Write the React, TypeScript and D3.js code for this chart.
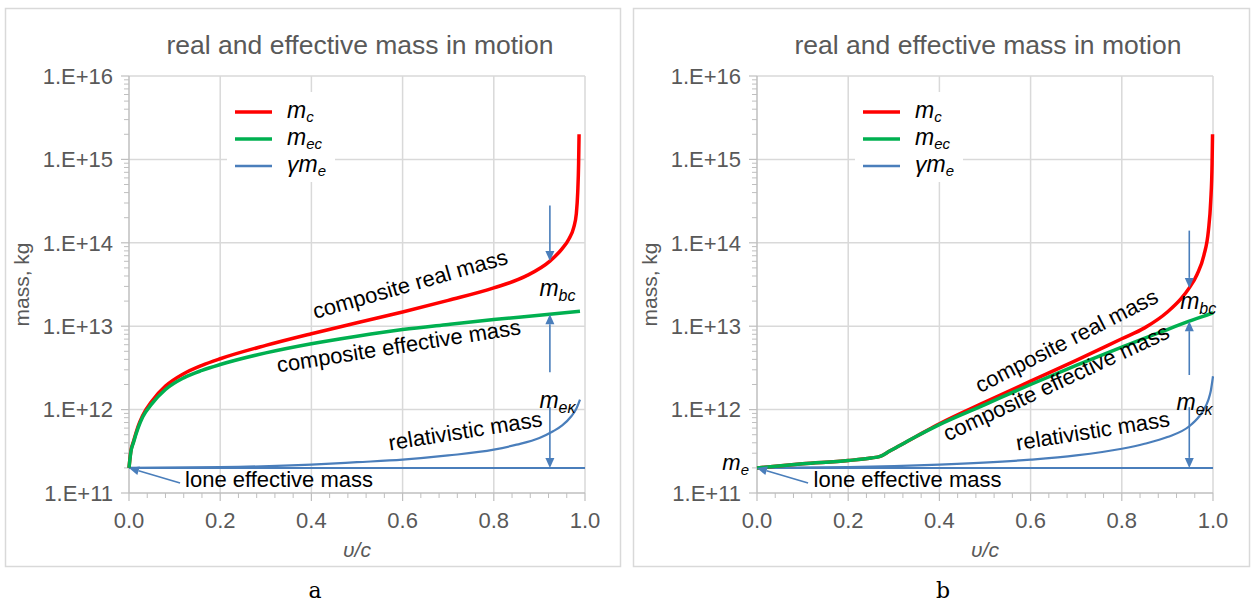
import React from 'react';
import * as d3 from 'd3';

// ---------- axis ticks ----------
const xTicks = [0, 0.2, 0.4, 0.6, 0.8, 1.0];
const xTickLabels = ['0.0', '0.2', '0.4', '0.6', '0.8', '1.0'];
const yTicks = [1e11, 1e12, 1e13, 1e14, 1e15, 1e16];
const yTickLabels = ['1.E+11', '1.E+12', '1.E+13', '1.E+14', '1.E+15', '1.E+16'];

const loneU = [0, 1.0];
const loneM = [2.0e11, 2.0e11];

// ---------- panel a ----------
const aRealU = [0, 0.004, 0.01, 0.02, 0.03, 0.05, 0.08, 0.12, 0.16, 0.2, 0.3, 0.4, 0.5, 0.6, 0.7, 0.8, 0.87, 0.923, 0.95, 0.965, 0.975, 0.981, 0.984, 0.986, 0.987];
const aRealM = [2.0e11, 3.16e11, 4.17e11, 6.31e11, 8.51e11, 1.26e12, 1.91e12, 2.69e12, 3.39e12, 4.07e12, 5.89e12, 8.13e12, 1.10e13, 1.48e13, 2.04e13, 2.88e13, 3.98e13, 6.03e13, 8.51e13, 1.12e14, 1.51e14, 2.24e14, 3.98e14, 8.91e14, 2.0e15];
const aEffU = [0, 0.004, 0.01, 0.02, 0.03, 0.05, 0.08, 0.12, 0.16, 0.2, 0.3, 0.4, 0.5, 0.6, 0.7, 0.8, 0.9, 0.989];
const aEffM = [2.0e11, 3.09e11, 4.07e11, 6.03e11, 8.13e11, 1.17e12, 1.74e12, 2.40e12, 2.95e12, 3.47e12, 4.79e12, 6.17e12, 7.59e12, 9.12e12, 1.05e13, 1.20e13, 1.35e13, 1.51e13];
const aGamU = [0, 0.2, 0.4, 0.5, 0.6, 0.7, 0.8, 0.85, 0.9, 0.93, 0.95, 0.97, 0.98, 0.989];
const aGamM = [2.0e11, 2.04e11, 2.19e11, 2.34e11, 2.51e11, 2.82e11, 3.31e11, 3.80e11, 4.57e11, 5.50e11, 6.46e11, 8.32e11, 1.0e12, 1.32e12];

// ---------- panel b ----------
const bRealU = [0, 0.1, 0.2, 0.25, 0.27, 0.29, 0.31, 0.35, 0.4, 0.5, 0.6, 0.7, 0.8, 0.85, 0.9, 0.93, 0.948, 0.965, 0.98, 0.99, 0.995, 0.998, 0.999];
const bRealM = [2.0e11, 2.24e11, 2.45e11, 2.63e11, 2.75e11, 3.16e11, 3.63e11, 4.79e11, 6.76e11, 1.23e12, 2.19e12, 3.89e12, 7.08e12, 9.55e12, 1.48e13, 2.14e13, 2.88e13, 4.17e13, 7.08e13, 1.41e14, 3.16e14, 8.91e14, 2.0e15];
const bEffU = [0, 0.1, 0.2, 0.25, 0.27, 0.29, 0.31, 0.35, 0.4, 0.5, 0.6, 0.7, 0.8, 0.9, 0.948, 0.98, 1.0];
const bEffM = [2.0e11, 2.24e11, 2.45e11, 2.63e11, 2.75e11, 3.16e11, 3.63e11, 4.79e11, 6.61e11, 1.15e12, 2.0e12, 3.39e12, 5.62e12, 9.12e12, 1.15e13, 1.32e13, 1.45e13];
const bGamU = [0, 0.2, 0.4, 0.6, 0.7, 0.8, 0.85, 0.9, 0.948, 0.97, 0.98, 0.99, 0.995, 1.0];
const bGamM = [2.0e11, 2.04e11, 2.19e11, 2.51e11, 2.82e11, 3.39e11, 3.89e11, 4.68e11, 6.31e11, 8.32e11, 1.0e12, 1.32e12, 1.66e12, 2.51e12];

const TITLE = 'real and effective mass in motion';
const Y_LABEL = 'mass, kg';

const RED = '#FF0000';
const GREEN = '#00B050';
const BLUE = '#4A7EBB';
const GRID = '#D9D9D9';
const AXIS = '#BFBFBF';
const TXT = '#595959';
const SANS = '"Liberation Sans", Arial, sans-serif';

const PLOT_W = 456;
const TOP = 76;
const BOTTOM = 493;

type Pt = [number, number];

function zip(u: number[], m: number[]): Pt[] {
  return u.map((v, i) => [v, m[i]] as Pt);
}

function Arrow({ x1, y1, x2, y2, head = 10, half = 4.5 }: any) {
  const dx = x2 - x1, dy = y2 - y1;
  const len = Math.hypot(dx, dy);
  const ux = dx / len, uy = dy / len;
  const bx = x2 - ux * head, by = y2 - uy * head;
  const px = -uy, py = ux;
  const pts = `${x2},${y2} ${bx + px * half},${by + py * half} ${bx - px * half},${by - py * half}`;
  return (
    <g>
      <line x1={x1} y1={y1} x2={bx} y2={by} stroke={BLUE} strokeWidth={1.6} />
      <polygon points={pts} fill={BLUE} />
    </g>
  );
}

function Panel(props: any) {
  const { x0, real, eff, gam, ann, letter, showMe } = props;
  const xs = d3.scaleLinear().domain([0, 1]).range([x0, x0 + PLOT_W]);
  const ys = d3.scaleLog().domain([1e11, 1e16]).range([BOTTOM, TOP]);
  const line = d3
    .line<Pt>()
    .x((d) => xs(d[0]))
    .y((d) => ys(d[1]))
    .curve(d3.curveMonotoneX);

  const minorY: number[] = [];
  for (let e = 11; e < 16; e++) for (let k = 2; k <= 9; k++) minorY.push(k * Math.pow(10, e));
  const minorX: number[] = [];
  for (let i = 1; i < 25; i++) if (i % 5 !== 0) minorX.push(i * 0.04);

  const xc = xs(0.5);
  const ax = xs(ann.u);
  const legX = x0 + 106;

  return (
    <g>
      {xTicks.slice(1).map((t) => (
        <line key={'gx' + t} x1={xs(t)} x2={xs(t)} y1={TOP} y2={BOTTOM} stroke={GRID} strokeWidth={1.5} />
      ))}
      {yTicks.slice(1).map((t) => (
        <line key={'gy' + t} x1={x0} x2={x0 + PLOT_W} y1={ys(t)} y2={ys(t)} stroke={GRID} strokeWidth={1.5} />
      ))}
      <rect x={x0 + 98} y={92} width={108} height={90} fill="#fff" />
      <line x1={x0} x2={x0} y1={TOP} y2={BOTTOM} stroke={AXIS} strokeWidth={1.5} />
      <line x1={x0} x2={x0 + PLOT_W} y1={BOTTOM} y2={BOTTOM} stroke={AXIS} strokeWidth={1.5} />
      {yTicks.map((t) => (
        <line key={'ty' + t} x1={x0 - 8} x2={x0} y1={ys(t)} y2={ys(t)} stroke={AXIS} strokeWidth={1.2} />
      ))}
      {minorY.map((t) => (
        <line key={'my' + t} x1={x0 - 5} x2={x0} y1={ys(t)} y2={ys(t)} stroke={AXIS} strokeWidth={1} />
      ))}
      {xTicks.map((t) => (
        <line key={'tx' + t} x1={xs(t)} x2={xs(t)} y1={BOTTOM} y2={BOTTOM + 8} stroke={AXIS} strokeWidth={1.2} />
      ))}
      {minorX.map((t) => (
        <line key={'mx' + t} x1={xs(t)} x2={xs(t)} y1={BOTTOM} y2={BOTTOM + 5} stroke={AXIS} strokeWidth={1} />
      ))}
      {yTicks.map((t, i) => (
        <text key={'ly' + t} x={x0 - 16} y={ys(t)} dy="0.35em" textAnchor="end" fontFamily={SANS} fontSize={22} fill={TXT}>
          {yTickLabels[i]}
        </text>
      ))}
      {xTicks.map((t, i) => (
        <text key={'lx' + t} x={xs(t)} y={528} textAnchor="middle" fontFamily={SANS} fontSize={22} fill={TXT}>
          {xTickLabels[i]}
        </text>
      ))}
      <text x={xc} y={557} textAnchor="middle" fontFamily={SANS} fontSize={21} fontStyle="italic" fill={TXT}>
        υ/c
      </text>
      <text x={xc + 3} y={54} textAnchor="middle" fontFamily={SANS} fontSize={26.5} fill={TXT}>
        {TITLE}
      </text>
      <text
        transform={`translate(${x0 - 100},${(TOP + BOTTOM) / 2}) rotate(-90)`}
        textAnchor="middle"
        fontFamily={SANS}
        fontSize={21}
        fill={TXT}
      >
        {Y_LABEL}
      </text>

      <path d={line(zip(loneU, loneM)) || ''} fill="none" stroke={BLUE} strokeWidth={2} />
      <path d={line(gam) || ''} fill="none" stroke={BLUE} strokeWidth={2.2} />
      <path d={line(real) || ''} fill="none" stroke={RED} strokeWidth={3.5} />
      <path d={line(eff) || ''} fill="none" stroke={GREEN} strokeWidth={3.5} />

      <line x1={legX} x2={legX + 37} y1={112} y2={112} stroke={RED} strokeWidth={3.5} />
      <line x1={legX} x2={legX + 37} y1={139} y2={139} stroke={GREEN} strokeWidth={3.5} />
      <line x1={legX} x2={legX + 37} y1={166} y2={166} stroke={BLUE} strokeWidth={2.5} />
      <g fontFamily={SANS} fontStyle="italic" fill="#000">
        <text x={legX + 52} y={118} fontSize={23}>
          m<tspan fontSize={15} dy={4}>c</tspan>
        </text>
        <text x={legX + 52} y={145} fontSize={23}>
          m<tspan fontSize={15} dy={4}>ec</tspan>
        </text>
        <text x={legX + 52} y={172} fontSize={23}>
          γm<tspan fontSize={15} dy={4}>e</tspan>
        </text>
      </g>

      <Arrow x1={ax} y1={ys(ann.topStart)} x2={ax} y2={ys(ann.realTip)} />
      <Arrow x1={ax} y1={ys(ann.midStart)} x2={ax} y2={ys(ann.effTip)} />
      <Arrow x1={ax} y1={ys(ann.lowStart)} x2={ax} y2={ys(loneM[0])} />
      <Arrow x1={xs(ann.loneArrowU)} y1={ys(ann.loneArrowM)} x2={xs(0)} y2={ys(loneM[0])} />

      <g fontFamily={SANS} fontStyle="italic" fill="#000">
        <text x={xs(ann.mbc[0])} y={ys(ann.mbc[1])} fontSize={23}>
          m<tspan fontSize={16} dy={5}>bc</tspan>
        </text>
        <text x={xs(ann.mek[0])} y={ys(ann.mek[1])} fontSize={23}>
          m<tspan fontSize={16} dy={5}>eκ</tspan>
        </text>
        {showMe && (
          <text x={x0 - 8} y={ys(loneM[0]) + 2} textAnchor="end" fontSize={22}>
            m<tspan fontSize={15} dy={5}>e</tspan>
          </text>
        )}
      </g>

      {ann.labels.map((l: any) => (
        <text
          key={l.text}
          transform={`translate(${xs(l.u)},${ys(l.m)}) rotate(${l.angle})`}
          textAnchor="middle"
          fontFamily={SANS}
          fontSize={22}
          fill="#000"
        >
          {l.text}
        </text>
      ))}

      <text x={xs(0.5) - 42} y={598} textAnchor="middle" fontFamily='"DejaVu Serif", "Liberation Serif", serif' fontSize={22} fill="#000">
        {letter}
      </text>
    </g>
  );
}

const annA = {
  u: 0.923,
  topStart: 2.8e14,
  realTip: 6.03e13,
  midStart: 2.8e12,
  effTip: 1.39e13,
  lowStart: 1.07e12,
  loneArrowU: 0.112,
  loneArrowM: 1.32e11,
  mbc: [0.9, 2.3e13],
  mek: [0.9, 1.05e12],
  labels: [
    { text: 'composite real mass', u: 0.621, m: 2.63e13, angle: -16 },
    { text: 'composite effective mass', u: 0.594, m: 4.73e12, angle: -9 },
    { text: 'relativistic mass', u: 0.74, m: 4.53e11, angle: -9 },
    { text: 'lone effective mass', u: 0.329, m: 1.19e11, angle: 0 },
  ],
};

const annB = {
  u: 0.948,
  topStart: 1.4e14,
  realTip: 2.88e13,
  midStart: 2.6e12,
  effTip: 1.15e13,
  lowStart: 1.07e12,
  loneArrowU: 0.112,
  loneArrowM: 1.32e11,
  mbc: [0.928, 1.6e13],
  mek: [0.92, 1.0e12],
  labels: [
    { text: 'composite real mass', u: 0.686, m: 5.58e12, angle: -27 },
    { text: 'composite effective mass', u: 0.663, m: 1.75e12, angle: -25 },
    { text: 'relativistic mass', u: 0.739, m: 4.53e11, angle: -9 },
    { text: 'lone effective mass', u: 0.33, m: 1.19e11, angle: 0 },
  ],
};

export default function App() {
  return (
    <svg
      width={1254}
      height={602}
      style={{ position: 'absolute', left: 0, top: 0, background: '#fff' }}
    >
      <rect x={0} y={0} width={1254} height={602} fill="#fff" />
      <rect x={5.5} y={8.5} width={615} height={558} fill="#fff" stroke={GRID} strokeWidth={1.5} />
      <rect x={633.5} y={8.5} width={616} height={558} fill="#fff" stroke={GRID} strokeWidth={1.5} />
      <Panel
        x0={129}
        real={zip(aRealU, aRealM)}
        eff={zip(aEffU, aEffM)}
        gam={zip(aGamU, aGamM)}
        ann={annA}
        letter="a"
        showMe={false}
      />
      <Panel
        x0={757}
        real={zip(bRealU, bRealM)}
        eff={zip(bEffU, bEffM)}
        gam={zip(bGamU, bGamM)}
        ann={annB}
        letter="b"
        showMe={true}
      />
    </svg>
  );
}
